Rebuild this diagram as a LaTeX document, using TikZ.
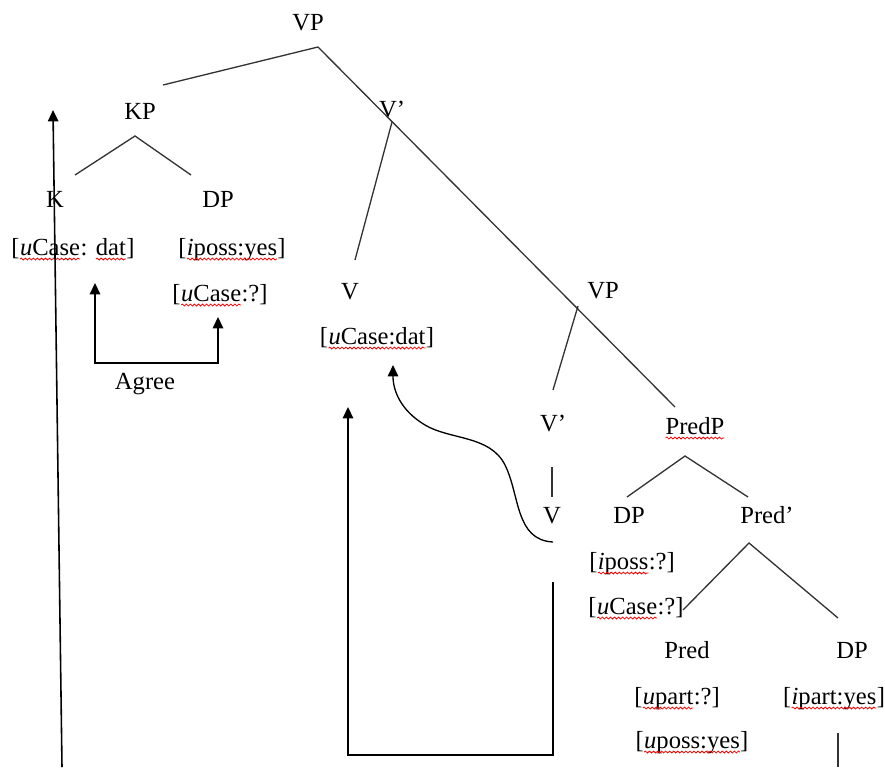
\documentclass[tikz,border=0pt]{standalone}
\usepackage{fontspec}
\setmainfont{Liberation Serif}
\usepackage{tikz}
\usetikzlibrary{arrows.meta,decorations.pathmorphing}

%% red spell-check squiggle under a word
\newcommand{\spell}[1]{\tikz[baseline=(s.base)]{\node[inner sep=0pt,outer sep=0pt] (s) {#1};
  \draw[red,line width=0.45pt,decorate,decoration={snake,amplitude=0.55pt,segment length=2.3pt}] ([yshift=-2.2pt]s.base west) -- ([yshift=-2.2pt]s.base east);}}

\tikzset{
  lbl/.style={inner sep=0pt,text height=10pt,text depth=3pt,font=\fontsize{14}{17}\selectfont},
  branch/.style={draw=black!80,line width=0.75pt},
  arr/.style={draw=black,line width=0.9pt,-{Triangle[width=6pt,length=6.5pt]}}
}

\begin{document}
\begin{tikzpicture}[x=0.02cm,y=-0.02cm]
  \useasboundingbox (0,0) rectangle (885,767);

  %% labels of the tree
  \draw(308,24) node[lbl] (vp) {VP};
  \draw(140,113) node[lbl] (kp) {KP};
  \draw(392,111) node[lbl] (vbar) {V’};
  \draw(55,201) node[lbl] (k) {K};
  \draw(218,201) node[lbl] (dp) {DP};
  \draw(73,249) node[lbl] (kcase) {[\spell{\textit{u}Case}: \spell{dat}]};
  \draw(232,249) node[lbl] (dposs) {[\spell{\textit{i}poss:yes}]};
  \draw(220,295) node[lbl] (dcase) {[\spell{\textit{u}Case}:?]};
  \draw(350,293) node[lbl] (v) {V};
  \draw(377,338) node[lbl] (vcase) {[\spell{\textit{u}Case:dat}]};
  \draw(145,383) node[lbl] (agree) {Agree};
  \draw(603,292) node[lbl] (vpl) {VP};
  \draw(553,425) node[lbl] (vbarl) {V’};
  \draw(695,428) node[lbl] (predp) {\spell{PredP}};
  \draw(552,517) node[lbl] (vl) {V};
  \draw(629,517) node[lbl] (dpl) {DP};
  \draw(767,517) node[lbl] (predbar) {Pred’};
  \draw(632,563) node[lbl] (dlposs) {[\spell{\textit{i}poss}:?]};
  \draw(636,608) node[lbl] (dlcase) {[\spell{\textit{u}Case}:?]};
  \draw(687,652) node[lbl] (pred) {Pred};
  \draw(852,652) node[lbl] (dpr) {DP};
  \draw(677,698) node[lbl] (predpart) {[\spell{\textit{u}part}:?]};
  \draw(834,698) node[lbl] (dprpart) {[\spell{\textit{i}part:yes}]};
  \draw(692,742) node[lbl] (predposs) {[\spell{\textit{u}poss:yes}]};

  %% branch points
  \coordinate (vp-b) at (318,47);
  \coordinate (kp-t) at (163,85);
  \coordinate (predp-t) at (675,407);
  \coordinate (kp-b) at (135,136);
  \coordinate (k-t) at (75,175);
  \coordinate (dp-t) at (191,175);
  \coordinate (vbar-b) at (392,122);
  \coordinate (v-t) at (355,260);
  \coordinate (vpl-b) at (578,306);
  \coordinate (vbarl-t) at (553,390);
  \coordinate (vbarl-b) at (552,467);
  \coordinate (vl-t) at (552,497);
  \coordinate (predp-b) at (685,456);
  \coordinate (dpl-t) at (627,497);
  \coordinate (predbar-t) at (748,497);
  \coordinate (predbar-b) at (749,543);
  \coordinate (pred-t) at (683,610);
  \coordinate (dpr-t) at (838,618);
  \coordinate (dpr-b) at (838,733);
  \coordinate (dpr-e) at (838,767);

  %% tree
  \draw[branch] (kp-t) -- (vp-b) -- (predp-t);
  \draw[branch] (k-t) -- (kp-b) -- (dp-t);
  \draw[branch] (vbar-b) -- (v-t);
  \draw[branch] (vpl-b) -- (vbarl-t);
  \draw[branch] (vbarl-b) -- (vl-t);
  \draw[branch] (dpl-t) -- (predp-b) -- (predbar-t);
  \draw[branch] (pred-t) -- (predbar-b) -- (dpr-t);
  \draw[branch] (dpr-b) -- (dpr-e);

  %% movement / agree arrows
  \coordinate (long-s) at (62,767);
  \coordinate (long-e) at (53,110);
  \draw[arr] (long-s) -- (long-e);

  \coordinate (ag-l) at (95,283);
  \coordinate (ag-r) at (218,317);
  \draw[arr,{Triangle[width=6pt,length=6.5pt]}-{Triangle[width=6pt,length=6.5pt]}] (ag-l) -- (95,363) -- (218,363) -- (ag-r);

  \coordinate (cv-s) at (553,542);
  \coordinate (cv-e) at (393,365);
  \draw[arr,line width=0.75pt] (cv-s) .. controls (515,540) and (520,495) .. (505,465)
     .. controls (490,435) and (450,440) .. (425,425)
     .. controls (400,410) and (393,390) .. (cv-e);

  \coordinate (box-s) at (553,582);
  \coordinate (box-e) at (348,407);
  \draw[arr] (box-s) -- (553,755) -- (348,755) -- (box-e);
\end{tikzpicture}
\end{document}
